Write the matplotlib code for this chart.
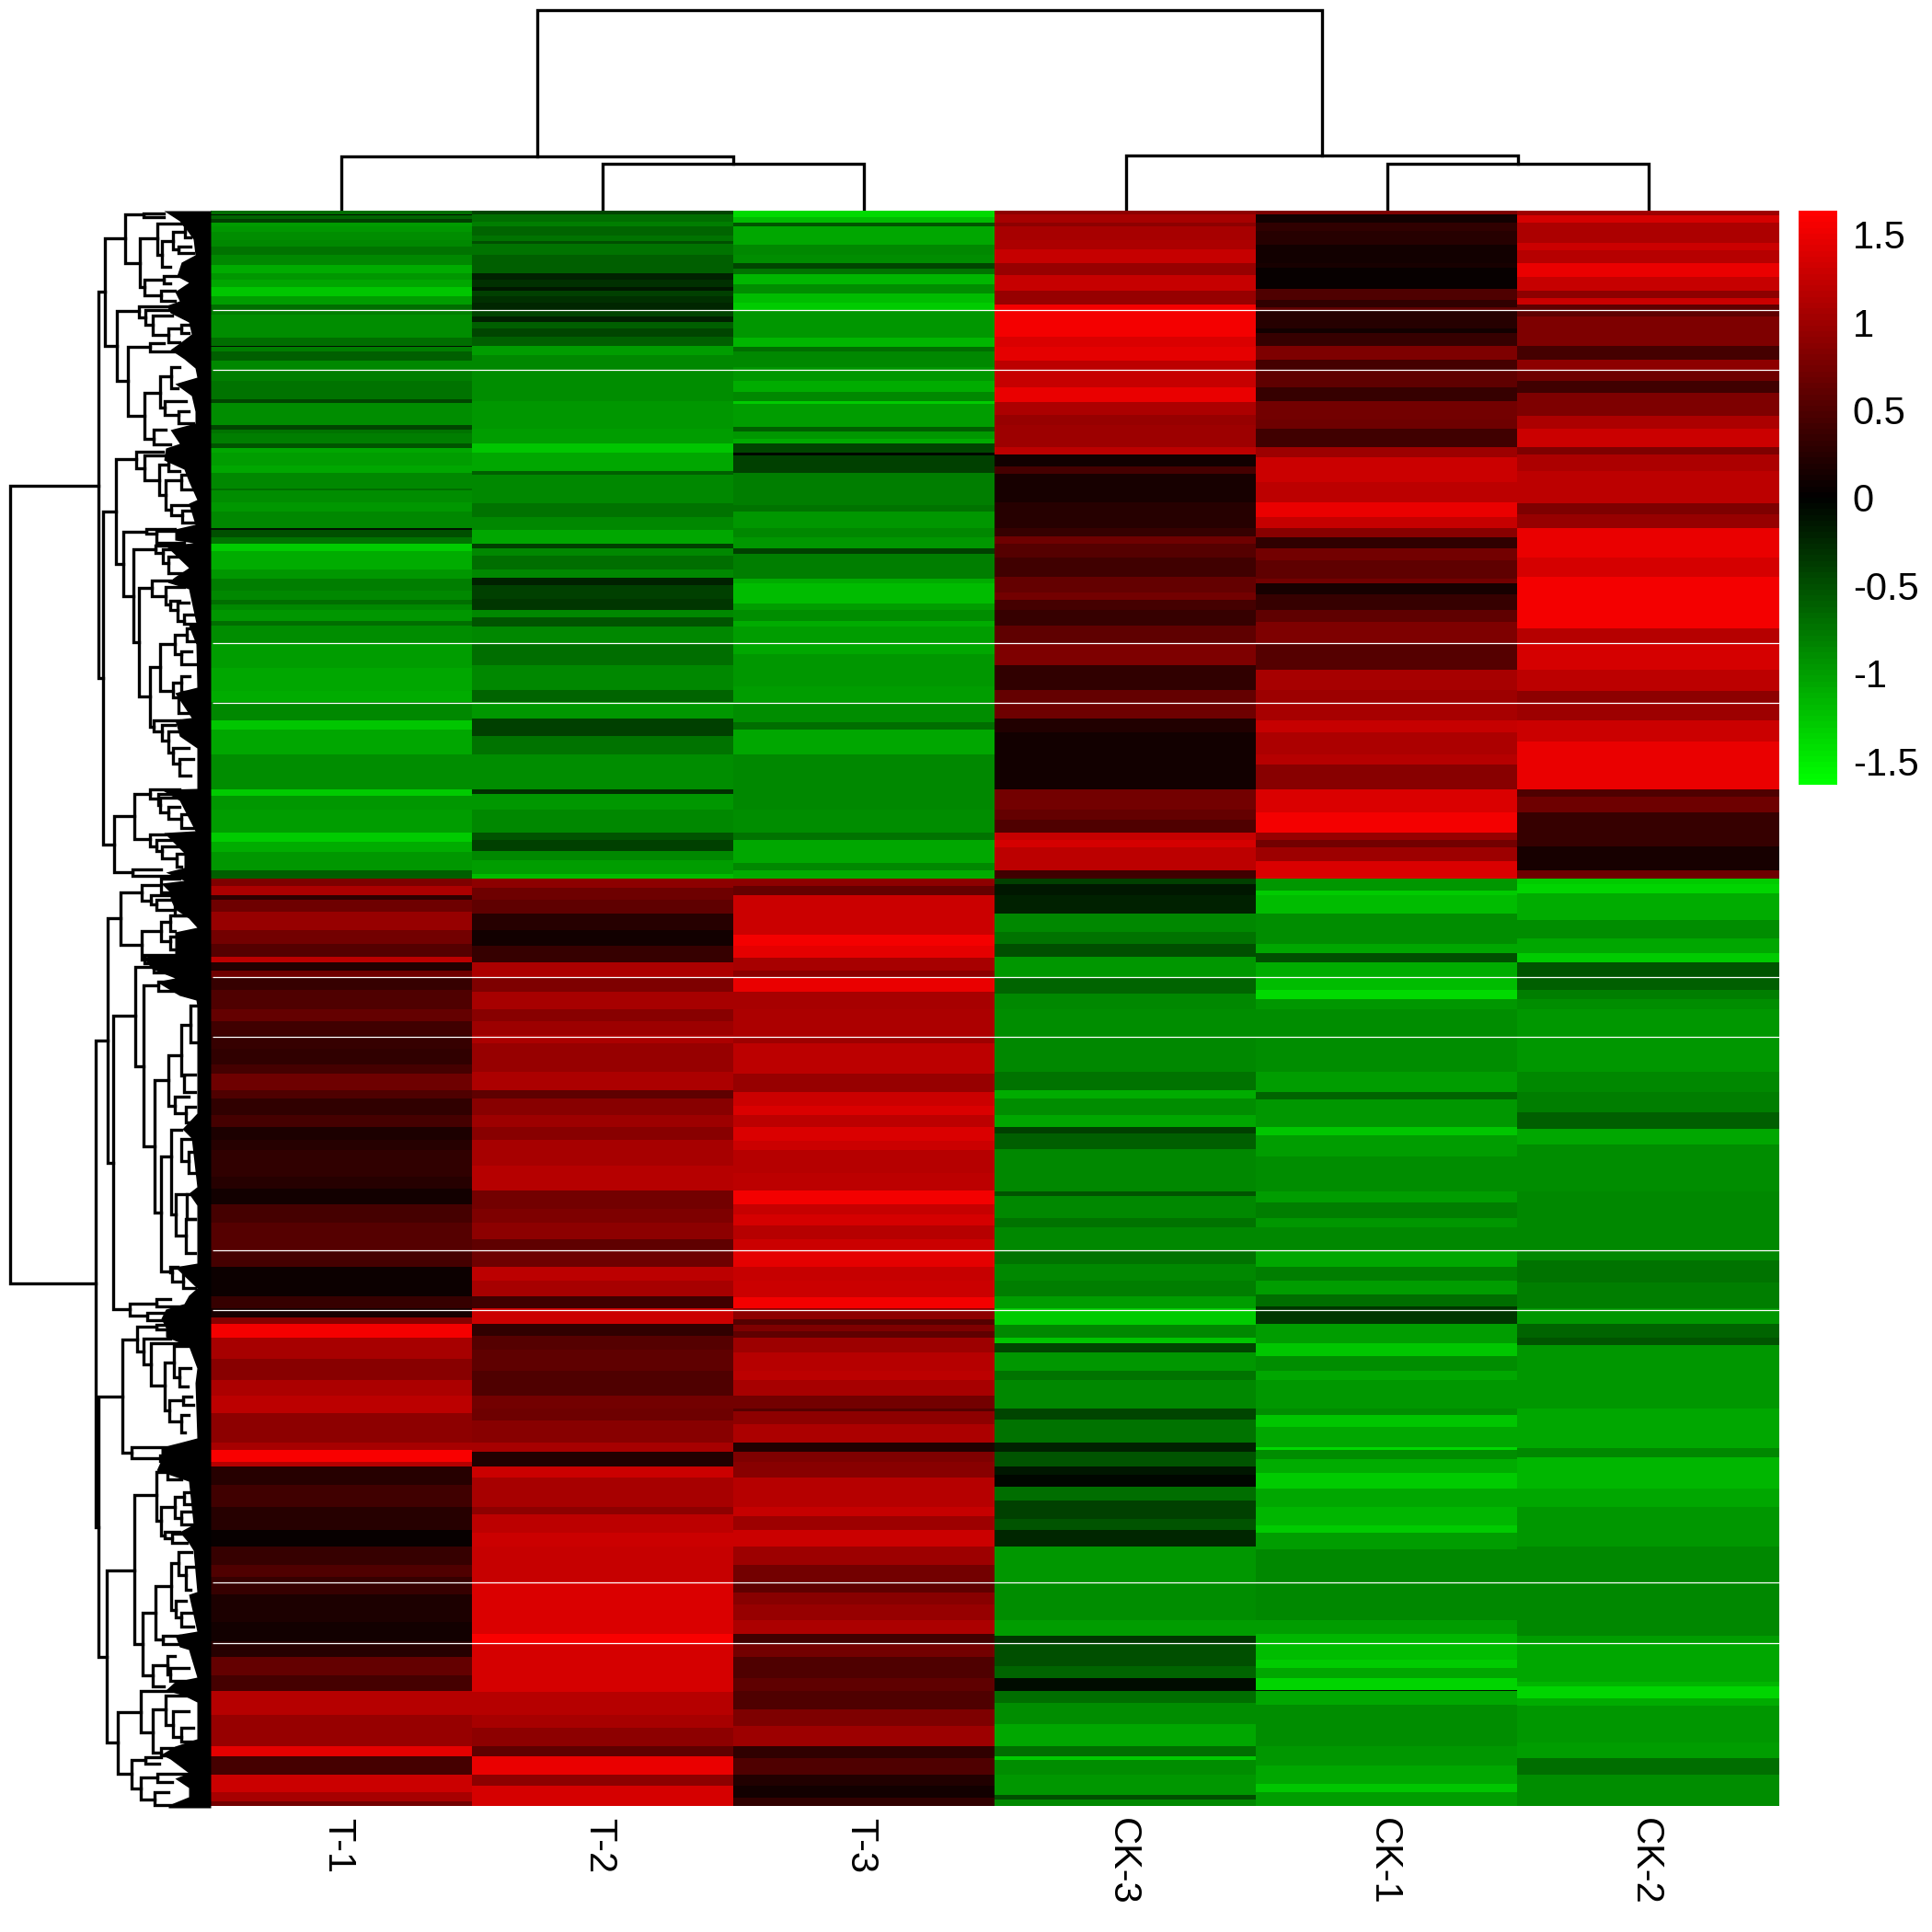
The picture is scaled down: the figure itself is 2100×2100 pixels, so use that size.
import numpy as np
from matplotlib import pyplot as plt
from matplotlib.colors import LinearSegmentedColormap
from matplotlib.transforms import ScaledTranslation

plt.rcParams['font.family'] = ['Liberation Sans', 'DejaVu Sans']

col_labels = ['T-1', 'T-2', 'T-3', 'CK-3', 'CK-1', 'CK-2']
bar_ticks = [-1.5, -1, -0.5, 0, 0.5, 1, 1.5]
bar_labels = ['-1.5', '-1', '-0.5', '0', '0.5', '1', '1.5']

# every column is four stretches of (last row, value), 1302 rows per stretch
t1_runs = [
    [(12,-.7),(16,-.1),(28,-.65),(38,-.4),(50,-1.0),(70,-.95),(95,-.9),(118,-.85),(143,-.75),(178,-.85),(205,-1.1),(225,-.95),(250,-1.05),(280,-1.25),(305,-1.0),(325,-.7),(340,-.8),(415,-.9),(440,-.7),(445,-.1),(460,-.8),(490,-.6),(520,-.85),(555,-.8),(615,-.75),(628,-.45),(700,-.9),(715,-.45),(725,-.75),(760,-.8),(775,-.55),(790,-1.05),(830,-1.0),(855,-1.05),(905,-.85),(912,-.7),(950,-.9),(980,-.95),(1035,-.85),(1040,-.1),(1065,-.5),(1085,-.75),(1110,-1.3),(1170,-1.1),(1200,-.95),(1240,-.8),(1270,-.85),(1285,-.7),(1302,-.85)],
    [(35,-.95),(50,-.7),(108,-.9),(190,-1.0),(265,-1.05),(300,-1.1),(360,-.85),(390,-1.25),(470,-1.05),(585,-.9),(605,-1.3),(650,-.95),(725,-1.0),(755,-1.3),(790,-1.1),(850,-.95),(875,-.6),(900,.8),(930,1.1),(945,.3),(985,.7),(1045,.95),(1090,.75),(1130,.55),(1150,1.2),(1175,.2),(1200,.7),(1240,.35),(1302,.5)],
    [(40,.65),(85,.4),(130,.35),(180,.3),(210,.45),(265,.7),(290,.5),(345,.3),(385,.45),(425,.18),(460,.25),(545,.3),(585,.25),(635,.12),(695,.45),(785,.55),(840,.45),(935,.08),(975,.35),(1005,.15),(1025,.85),(1070,1.55),(1140,1.05),(1210,.85),(1260,1.1),(1302,1.2)],
    [(15,1.2),(110,.9),(135,1.05),(175,1.6),(190,1.15),(250,.25),(320,.4),(395,.25),(450,.05),(510,.35),(550,.5),(605,.35),(695,.18),(760,.1),(810,.25),(870,.65),(920,.45),(1000,1.15),(1100,.95),(1135,1.45),(1195,.45),(1250,1.3),(1280,1.05),(1296,.75)],
]
t2_runs = [
    [(12,-.45),(35,-.7),(50,-.8),(80,-.65),(100,-.75),(108,-.5),(145,-.75),(205,-.6),(225,-.2),(250,-.3),(262,-.15),(280,-.4),(300,-.3),(325,-.25),(345,-.45),(362,-.2),(385,-.6),(410,-.45),(440,-.6),(470,-1.0),(520,-.85),(620,-.9),(710,-.95),(760,-1.0),(790,-1.25),(850,-1.05),(860,-.6),(955,-.85),(1000,-.75),(1040,-.85),(1085,-1.05),(1100,-.4),(1125,-.85),(1170,-.7),(1197,-.85),(1220,-.2),(1265,-.4),(1302,-.35)],
    [(25,-.85),(55,-.55),(110,-.85),(180,-.7),(260,-.85),(300,-.65),(355,-.95),(410,-.4),(470,-.75),(585,-.9),(600,-.3),(650,-.95),(725,-.85),(750,-.55),(785,-.4),(815,-.85),(860,-1.0),(875,-1.2),(905,.9),(945,.7),(990,.6),(1045,.25),(1095,.12),(1150,.35),(1200,1.1),(1245,.8),(1302,1.05)],
    [(40,.85),(85,1.0),(110,1.1),(205,.95),(265,1.1),(290,.6),(345,.85),(385,1.0),(425,.85),(510,1.05),(590,1.15),(650,.75),(695,.8),(750,.9),(785,.6),(840,.7),(885,1.2),(935,1.05),(975,.4),(1025,1.3),(1065,.3),(1110,.55),(1180,.6),(1260,.5),(1302,.75)],
    [(40,.7),(110,.85),(140,1.05),(190,.2),(225,1.3),(320,1.05),(345,.9),(405,1.2),(450,1.3),(565,1.25),(735,1.4),(765,1.6),(925,1.35),(1000,1.15),(1040,1.05),(1100,.9),(1135,.6),(1195,1.5),(1230,.9),(1296,1.35)],
]
t3_runs = [
    [(20,-1.4),(40,-1.2),(50,-.55),(110,-1.05),(145,-.85),(170,-.9),(190,-.45),(207,-.75),(240,-1.15),(270,-.9),(300,-1.2),(325,-1.3),(415,-.95),(445,-1.15),(460,-.7),(510,-.85),(555,-.95),(590,-1.1),(620,-.85),(630,-1.3),(705,-1.0),(720,-.6),(745,-.95),(760,-1.1),(790,-.45),(798,-.05),(855,-.4),(960,-.8),(980,-.75),(1035,-.95),(1065,-.85),(1100,-.95),(1120,-.4),(1200,-.8),(1215,-1.1),(1280,-1.2),(1302,-1.0)],
    [(35,-.9),(55,-1.1),(110,-1.0),(145,-1.05),(250,-.95),(300,-1.0),(365,-.9),(390,-.7),(470,-1.05),(650,-.85),(725,-.9),(750,-.75),(825,-1.05),(850,-.85),(875,-1.1),(900,.9),(930,.65),(1060,1.3),(1095,1.55),(1135,1.45),(1175,1.05),(1200,.9),(1245,1.5),(1302,1.05)],
    [(90,1.1),(110,1.0),(210,1.2),(270,.95),(315,1.3),(345,1.4),(385,1.2),(430,1.4),(460,1.3),(535,1.15),(590,1.2),(635,1.55),(670,1.25),(705,1.35),(750,1.15),(785,1.3),(840,1.45),(885,1.25),(940,1.3),(975,1.55),(1010,.9),(1030,.55),(1050,.8),(1070,.6),(1120,1.0),(1180,1.15),(1210,1.2),(1260,1.05),(1302,.75)],
    [(10,.55),(50,.9),(110,1.1),(140,.2),(175,.8),(225,.85),(320,1.15),(350,1.25),(395,1.0),(450,1.3),(510,1.0),(565,.75),(600,.6),(640,.85),(690,.95),(735,1.1),(765,.4),(810,.75),(880,.5),(920,.6),(980,.5),(1035,.8),(1100,1.0),(1140,.3),(1195,.5),(1230,.2),(1270,.12),(1296,.3)],
]
ck3_runs = [
    [(12,.9),(40,1.05),(50,.9),(95,1.05),(125,1.1),(170,1.25),(210,.95),(260,1.25),(305,.95),(410,1.55),(445,1.4),(490,1.45),(520,1.2),(575,1.25),(625,1.5),(665,1.1),(700,.95),(770,1.0),(795,1.2),(835,.1),(858,.45),(950,.15),(1035,.25),(1062,.35),(1085,.7),(1130,.55),(1195,.4),(1245,.65),(1270,.75),(1302,.45)],
    [(50,.35),(110,.6),(180,.8),(260,.3),(300,.65),(355,.7),(400,.2),(585,.1),(650,.75),(685,.65),(725,.5),(750,1.25),(775,1.35),(850,1.2),(875,.4),(895,-.4),(930,-.15),(990,-.2),(1050,-.85),(1090,-.75),(1130,-.5),(1200,-.95),(1250,-.65),(1302,-.85)],
    [(90,-.9),(205,-.85),(265,-.75),(290,-1.1),(345,-.9),(385,-1.05),(405,-.4),(455,-.6),(595,-.85),(610,-.55),(680,-.85),(710,-.75),(785,-.85),(830,-.75),(885,-.85),(935,-.8),(975,-1.0),(1030,-1.3),(1070,-.85),(1090,-1.25),(1120,-.45),(1180,-.95),(1210,-.75),(1302,-.85)],
    [(35,-.45),(110,-.75),(140,-.2),(190,-.55),(215,-.15),(255,-.05),(300,-.7),(360,-.4),(395,-.55),(450,-.25),(565,-.95),(690,-.9),(740,-1.0),(765,-.35),(840,-.5),(880,-.65),(920,-.08),(960,-.7),(1030,-.9),(1100,-1.05),(1135,-.7),(1145,-1.3),(1195,-.9),(1260,-.95),(1275,-.5),(1296,-.85)],
]
ck1_runs = [
    [(12,.8),(40,.12),(65,.3),(110,.25),(170,.1),(185,.15),(255,.05),(290,.5),(315,.3),(325,.6),(385,.25),(400,.1),(440,.35),(485,.8),(520,.45),(575,.6),(620,.35),(680,.75),(710,.7),(770,.4),(805,1.0),(885,1.3),(950,1.2),(1000,1.5),(1035,1.25),(1065,.85),(1100,.3),(1140,.75),(1200,.6),(1215,.75),(1250,.15),(1302,.35)],
    [(40,.6),(110,.8),(195,.55),(260,1.05),(300,1.0),(360,1.05),(400,1.25),(470,1.1),(505,1.15),(585,.85),(660,1.4),(725,1.55),(750,.95),(775,.75),(820,1.0),(875,1.4),(915,-.95),(930,-1.3),(990,-1.2),(1090,-.9),(1120,-1.05),(1150,-.5),(1200,-1.1),(1240,-1.2),(1270,-1.4),(1302,-.95)],
    [(205,-.9),(270,-1.0),(295,-.65),(385,-.95),(410,-1.25),(480,-1.0),(595,-.9),(630,-1.0),(680,-.8),(710,-.95),(785,-.88),(840,-1.05),(885,-.8),(930,-1.0),(970,-.7),(1025,-.35),(1090,-1.0),(1130,-1.25),(1180,-.9),(1210,-1.05),(1302,-.95)],
    [(20,-.9),(60,-1.25),(125,-1.05),(135,-1.4),(165,-.9),(210,-1.1),(260,-1.3),(320,-1.05),(380,-1.15),(405,-1.3),(460,-1.0),(690,-.87),(735,-1.0),(765,-1.15),(820,-1.2),(845,-1.3),(880,-1.05),(918,-1.35),(922,-.1),(965,-1.05),(1100,-.9),(1165,-.95),(1225,-1.05),(1250,-1.25),(1296,-1.0)],
]
ck2_runs = [
    [(15,1.0),(40,1.35),(105,1.1),(130,1.3),(170,1.15),(215,1.5),(262,1.25),(285,.9),(305,1.3),(345,.6),(440,.8),(485,.45),(520,.9),(555,.7),(595,.4),(670,.8),(710,1.1),(770,1.3),(795,.8),(850,1.1),(955,1.2),(990,.8),(1035,.95),(1130,1.5),(1195,1.35),(1302,1.55)],
    [(60,1.55),(110,1.15),(195,1.35),(265,1.2),(300,.9),(360,1.0),(430,1.3),(585,1.5),(610,.5),(660,.7),(770,.35),(850,.15),(875,.7),(895,-1.3),(925,-1.35),(1010,-1.1),(1070,-.9),(1120,-1.05),(1150,-1.3),(1200,-.55),(1240,-.6),(1270,-.8),(1302,-.9)],
    [(205,-.95),(270,-.85),(335,-.8),(390,-.6),(440,-1.05),(595,-.9),(820,-.85),(890,-.75),(975,-.8),(1025,-.95),(1070,-.65),(1095,-.55),(1302,-.95)],
    [(130,-1.05),(160,-.85),(260,-1.15),(320,-1.05),(450,-.95),(740,-.85),(765,-1.0),(890,-1.05),(905,-1.15),(945,-1.35),(970,-1.1),(1090,-.95),(1140,-1.0),(1195,-.7),(1296,-.9)],
]

# rows where the picture has a white hairline
white_rows = [325, 520, 1410, 1605, 2497, 2692, 3388, 3583, 4473, 4669]

# column tree: (left, right, height, left child height, right child height)
col_merges = [
    (1.5, 2.5, 51, 0, 0),
    (0.5, 2.0, 59, 0, 51),
    (4.5, 5.5, 51, 0, 0),
    (3.5, 5.0, 60, 0, 51),
    (1.25, 4.25, 218, 59, 60),
]

# row tree: (x, y top, y bottom, x reached at top, x reached at bottom)
row_merges = [
    (11,528,1395,107,104),(107,317,737,114,112),(114,259,376,136,127),(136,233,286,156,152),
    (156,232,236,178,178),(152,259,312,171,157),(171,243,277,200,176),(176,262,290,188,185),
    (188,252,271,201,194),(201,248,258,210,207),(194,268,275,207,210),(157,304,321,178,175),
    (178,300,308,195,185),(175,316,327,190,190),(127,338,414,151,139),(151,333,345,190,158),
    (158,337,353,190,166),(166,343,364,187,183),(183,357,372,197,195),(197,353,362,207,205),
    (139,377,452,163,157),(163,373,382,178,190),(157,427,477,174,167),(174,409,443,186,179),
    (186,399,422,195,193),(179,436,451,202,194),(194,447,460,205,210),(167,467,483,180,185),
    (112,556,918,126,124),(126,499,613,148,134),(148,491,509,177,157),(157,495,522,185,173),
    (173,505,538,183,180),(183,501,512,195,195),(180,522,554,197,186),(197,516,532,205,210),
    (186,549,560,205,198),(198,555,568,208,212),(134,578,648,159,145),(159,575,580,190,170),
    (170,577,590,195,200),(145,597,698,169,151),(169,593,601,195,177),(177,597,612,200,183),
    (183,605,623,205,200),(151,639,757,165,163),(165,631,648,185,180),(180,638,657,200,185),
    (185,653,663,195,193),(193,655,675,205,200),(200,668,678,210,212),(163,725,790,174,167),
    (174,700,751,190,188),(190,690,711,203,197),(203,683,697,212,212),(197,708,722,208,212),
    (188,742,758,197,194),(197,735,752,206,210),(194,755,775,207,210),(167,783,795,195,176),
    (176,788,805,190,183),(183,795,818,200,188),(188,813,830,205,195),(195,825,843,210,207),
    (124,887,948,146,144),(146,863,912,163,163),(163,858,868,195,172),(172,863,875,205,174),
    (174,867,883,193,183),(183,877,890,195,197),(197,885,900,205,212),(163,907,920,190,170),
    (170,913,925,190,176),(176,920,933,195,192),(192,928,942,205,197),(144,945,952,175,195),
    (104,1131,1660,117,107),(117,998,1264,131,123),(131,970,1027,154,154),(154,962,979,175,164),
    (175,955,970,195,200),(164,973,983,190,170),(170,978,989,200,190),(190,985,995,210,210),
    (154,1012,1043,175,157),(175,1002,1023,185,185),(185,995,1012,205,190),(185,1018,1032,197,207),
    (157,1038,1047,195,195),(123,1104,1423,147,141),(147,1051,1159,167,156),(167,1045,1057,200,200),
    (156,1071,1246,172,168),(172,1067,1077,190,195),(168,1174,1318,183,175),(183,1147,1202,197,190),
    (197,1114,1169,207,200),(207,1093,1133,215,213),(200,1168,1187,212,212),(190,1192,1210,205,202),
    (202,1203,1220,212,212),(175,1257,1382,186,185),(186,1228,1320,197,191),(197,1238,1262,210,205),
    (205,1252,1275,212,212),(191,1298,1343,203,202),(203,1298,1325,213,212),(202,1325,1362,212,212),
    (185,1377,1383,193,187),(187,1378,1393,210,199),(199,1385,1400,210,212),(141,1417,1430,170,160),
    (170,1412,1420,185,205),(160,1427,1435,185,200),
    (107,1518,1801,133,116),(133,1456,1579,149,143),(149,1442,1469,170,156),(170,1440,1445,190,195),
    (156,1455,1483,185,164),(164,1460,1506,205,179),(179,1481,1533,189,184),(189,1463,1497,205,195),
    (195,1487,1507,207,204),(184,1522,1545,199,197),(199,1518,1527,208,210),(197,1538,1557,205,201),
    (143,1573,1585,180,174),(174,1582,1588,190,190),(116,1707,1894,146,128),(146,1625,1787,170,155),
    (170,1600,1653,182,175),(182,1595,1608,195,197),(175,1638,1669,190,179),(190,1627,1650,200,197),
    (200,1622,1635,212,210),(197,1643,1657,210,210),(179,1665,1672,195,187),(187,1667,1677,205,203),
    (155,1753,1821,169,166),(169,1724,1782,186,177),(186,1699,1750,194,191),(194,1687,1712,208,202),
    (202,1703,1728,212,207),(191,1740,1758,202,197),(197,1753,1768,210,210),(177,1778,1787,195,195),
    (166,1810,1833,182,178),(182,1800,1820,190,185),(185,1813,1827,205,210),(128,1861,1928,153,143),
    (153,1838,1883,197,166),(166,1858,1905,180,175),(180,1843,1875,205,188),(188,1860,1888,205,197),
    (197,1878,1893,210,210),(175,1900,1908,195,195),(143,1913,1944,158,153),(158,1910,1917,175,173),
    (153,1932,1956,171,168),(171,1928,1937,210,187),(168,1948,1962,183,210),
]

# left edge of the solid black leaf mass of the row tree
mass_y = [229,240,247,250,260,277,285,300,307,317,327,332,340,350,363,373,380,390,400,410,417,430,447,460,467,482,487,500,
          510,523,543,547,570,575,587,590,593,617,627,633,640,677,680,700,747,753,780,782,800,813,830,857,858,870,903,905,927,943,948,
          957,960,970,977,988,998,1008,1013,1037,1040,1053,1063,1067,1082,1087,1093,1130,1163,1190,1210,1227,1237,1290,1297,1310,1373,1377,1400,1408,1417,1423,1433,1443,1453,1463,1487,1503,1563,1568,1573,1587,1598,
          1610,1657,1665,1677,1685,1730,1733,1773,1777,1790,1793,1823,1828,1837,1843,1850,1890,1898,1907,1912,1927,1933,1943,1953,1962,1965]
mass_x = [178,195,200,203,210,212,197,192,205,190,195,181,185,205,208,195,185,200,212,215,190,208,212,212,185,195,180,178,
          200,205,220,205,212,190,190,210,180,205,190,182,205,213,205,213,215,190,208,190,195,215,217,215,175,195,212,178,200,200,180,
          200,175,185,185,190,205,217,190,190,155,165,190,170,195,213,220,222,215,215,215,198,208,220,205,218,215,190,215,205,200,180,175,180,180,205,217,212,215,195,175,175,170,
          205,210,195,205,210,215,205,215,190,195,205,215,190,180,200,215,217,190,175,185,205,190,205,205,183,183]

W = 2100
H = 2100
LEFT, RIGHT, TOP, BOTTOM = 229, 1934, 229, 1963


def box(x0, y0, x1, y1):
    return [x0 / W, 1 - y1 / H, (x1 - x0) / W, (y1 - y0) / H]


def expand(stretches):
    col = np.zeros(5202)
    for i, runs in enumerate(stretches):
        start = i * 1302
        prev = start
        for end, val in runs:
            col[prev:start + end] = val
            prev = start + end
        col[prev:start + 1302] = val
    return col


matrix = np.column_stack([expand(c) for c in [t1_runs, t2_runs, t3_runs, ck3_runs, ck1_runs, ck2_runs]])
cmap = LinearSegmentedColormap.from_list('gbr', ['#00FF00', '#000000', '#FF0000'], N=100)
vmax = 1.634

fig = plt.figure(figsize=(7, 7), dpi=300)

ax = fig.add_axes(box(LEFT, TOP, RIGHT, BOTTOM))
im = ax.imshow(matrix, aspect='auto', cmap=cmap, vmin=-vmax, vmax=vmax, interpolation='nearest')
ax.hlines(white_rows, -0.494, 5.5, color='white', lw=0.3)
ax.set_xlim(-0.5, 5.5)
ax.set_ylim(5201.5, -0.5)
ax.set_yticks([])
ax.set_xticks(range(6))
ax.set_xticklabels(col_labels, rotation=270, fontsize=10)
ax.tick_params(axis='x', length=0, pad=3)
# the rotated labels sit a little right of the cell centre otherwise
shift = ScaledTranslation(-4 / 300, 0, fig.dpi_scale_trans)
for label in ax.get_xticklabels():
    label.set_transform(label.get_transform() + shift)
for s in ax.spines.values():
    s.set_visible(False)

# column dendrogram
ax_top = fig.add_axes(box(LEFT, 0, RIGHT, TOP))
for a, b, h, ha, hb in col_merges:
    ax_top.plot([a, a, b, b], [ha, h, h, hb], color='black', lw=0.8, solid_joinstyle='miter')
ax_top.set_xlim(0, 6)
ax_top.set_ylim(0, TOP)
ax_top.axis('off')

# row dendrogram
ax_left = fig.add_axes(box(0, TOP, LEFT, BOTTOM))
ax_left.fill_betweenx(mass_y, np.minimum(mass_x, 214), LEFT, color='black', lw=0, clip_on=False)
for x, y0, y1, x0, x1 in row_merges:
    ax_left.plot([x0, x, x, x1], [y0, y0, y1, y1], color='black', lw=0.8,
                 solid_joinstyle='miter', clip_on=False)
ax_left.set_xlim(0, LEFT)
ax_left.set_ylim(BOTTOM, TOP)
ax_left.axis('off')

# colour key
cax = fig.add_axes(box(1955, 229, 1997, 853))
cb = fig.colorbar(im, cax=cax)
cb.outline.set_visible(False)
cb.set_ticks(bar_ticks)
cb.set_ticklabels(bar_labels)
cb.ax.tick_params(length=0, pad=4, labelsize=10)

fig.savefig('out.png', dpi=300)
